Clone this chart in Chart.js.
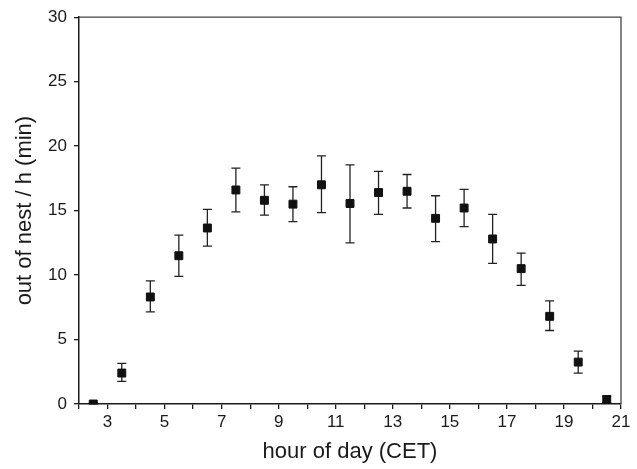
<!DOCTYPE html>
<html>
<head>
<meta charset="utf-8">
<script src="https://cdn.jsdelivr.net/npm/chart.js@4/dist/chart.umd.min.js"></script>
<style>
  html, body { margin: 0; padding: 0; background: #fff; }
  #wrap { width: 637px; height: 469px; }
</style>
</head>
<body>
<div id="wrap"><canvas id="c" width="637" height="469"></canvas></div>
<script>
// hora del dia (centro del intervalo)
const hours = [2.5, 3.5, 4.5, 5.5, 6.5, 7.5, 8.5, 9.5, 10.5, 11.5, 12.5, 13.5, 14.5, 15.5, 16.5, 17.5, 18.5, 19.5, 20.5];
// minutos fuera del nido por hora
const means = [0.0, 2.4, 8.3, 11.5, 13.65, 16.6, 15.8, 15.5, 17.0, 15.55, 16.4, 16.5, 14.4, 15.2, 12.8, 10.5, 6.8, 3.25, 0.35];
// limites de las barras de error
const errLow = [0.0, 1.75, 7.15, 9.9, 12.25, 14.9, 14.65, 14.15, 14.85, 12.5, 14.7, 15.2, 12.6, 13.75, 10.9, 9.2, 5.7, 2.4, 0.1];
const errHigh = [0.1, 3.15, 9.55, 13.1, 15.1, 18.3, 17.0, 16.85, 19.25, 18.55, 18.05, 17.8, 16.15, 16.65, 14.7, 11.7, 8.0, 4.1, 0.6];
const yTicks = [0, 5, 10, 15, 20, 25, 30];

const font = 'Liberation Sans, Arial, sans-serif';
const ink = '#1a1a1a';

// Dibujar las barras de error con las escalas del grafico
const errorBars = {
  id: 'errorBars',
  beforeDatasetsDraw(chart) {
    const ctx = chart.ctx;
    const x = chart.scales.x, y = chart.scales.y;
    ctx.save();
    ctx.strokeStyle = '#222';
    ctx.lineWidth = 1.3;
    hours.forEach((h, i) => {
      const px = x.getPixelForValue(h);
      const top = y.getPixelForValue(errHigh[i]);
      const bot = y.getPixelForValue(errLow[i]);
      ctx.beginPath();
      ctx.moveTo(px, top); ctx.lineTo(px, bot);
      ctx.moveTo(px - 4.5, top); ctx.lineTo(px + 4.5, top);
      ctx.moveTo(px - 4.5, bot); ctx.lineTo(px + 4.5, bot);
      ctx.stroke();
    });
    ctx.restore();
  }
};

// Marco superior y derecho
const frame = {
  id: 'frame',
  afterDraw(chart) {
    const a = chart.chartArea, ctx = chart.ctx;
    ctx.save();
    ctx.strokeStyle = '#444';
    ctx.lineWidth = 1.3;
    ctx.beginPath();
    ctx.moveTo(a.left, a.top); ctx.lineTo(a.right, a.top); ctx.lineTo(a.right, a.bottom);
    ctx.stroke();
    ctx.restore();
  }
};

new Chart(document.getElementById('c').getContext('2d'), {
  type: 'scatter',
  data: {
    datasets: [{
      data: hours.map((h, i) => ({ x: h, y: means[i] })),
      pointStyle: 'rect',
      pointRadius: 5.6,
      pointBorderWidth: 1,
      backgroundColor: '#111',
      borderColor: '#111'
    }]
  },
  options: {
    responsive: false,
    animation: false,
    layout: { padding: { top: 13, right: 16, left: 0, bottom: 0 } },
    plugins: { legend: { display: false }, tooltip: { enabled: false } },
    scales: {
      x: {
        type: 'linear', min: 2, max: 21,
        afterFit(s) { s.height = 65; },
        border: { display: true, color: ink, width: 1.5 },
        grid: { display: true, drawOnChartArea: false, tickLength: 5, color: ink, lineWidth: 1.3 },
        ticks: {
          stepSize: 1, autoSkip: false, maxRotation: 0, padding: 3, color: ink,
          font: { family: font, size: 17 },
          callback: v => (v % 2 === 1 ? String(v) : '')
        },
        title: { display: true, text: 'hour of day (CET)', color: ink, font: { family: font, size: 22 }, padding: { top: 4, bottom: 4 } }
      },
      y: {
        min: 0, max: 30,
        afterFit(s) { s.width = 79; },
        afterBuildTicks(s) { s.ticks = yTicks.map(v => ({ value: v })); },
        border: { display: true, color: ink, width: 1.5 },
        grid: { display: true, drawOnChartArea: false, tickLength: 5, color: ink, lineWidth: 1.3 },
        ticks: { padding: 7, color: ink, font: { family: font, size: 17 } },
        title: { display: true, text: 'out of nest / h (min)', color: ink, font: { family: font, size: 22 }, padding: { top: 12, bottom: 0 } }
      }
    }
  },
  plugins: [errorBars, frame]
});
</script>
</body>
</html>
